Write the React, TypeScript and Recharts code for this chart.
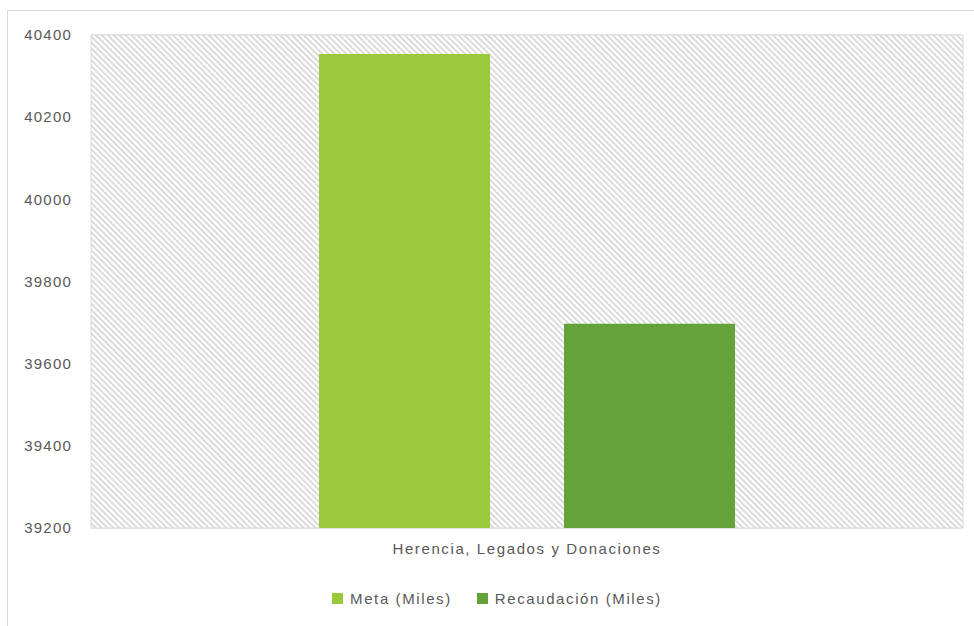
import React from 'react';
import { BarChart, Bar, XAxis, YAxis, CartesianGrid, ReferenceArea, Legend } from 'recharts';

const categories = ['Herencia, Legados y Donaciones'];
const metaValues = [40354];
const recaudacionValues = [39697];
const yTicks = [39200, 39400, 39600, 39800, 40000, 40200, 40400];
const seriesNames = ['Meta (Miles)', 'Recaudación (Miles)'];
const seriesColors = ['#9ACA3C', '#63A33A'];

const data = categories.map((c, i) => ({
  name: c,
  meta: metaValues[i],
  recaudacion: recaudacionValues[i],
}));

const FONT = '"Liberation Sans", Arial, sans-serif';
const TEXT = '#595959';

const LegendContent = () => (
  <div style={{ display: 'flex', justifyContent: 'center', alignItems: 'center', fontFamily: FONT, fontSize: 15, color: TEXT, letterSpacing: 1.6 }}>
    {seriesNames.map((n, i) => (
      <div key={n} style={{ display: 'flex', alignItems: 'center', marginRight: i === 0 ? 25 : 0 }}>
        <div style={{ width: 11, height: 11, background: seriesColors[i], marginRight: 7 }} />
        <span>{n}</span>
      </div>
    ))}
  </div>
);

export default function App() {
  return (
    <div style={{ position: 'absolute', left: 0, top: 0, width: 974, height: 626, overflow: 'hidden', background: '#fff' }}>
      <div style={{ position: 'absolute', left: 7, top: 10, width: 1100, height: 800, border: '1px solid #d9d9d9' }} />
      <div style={{ position: 'absolute', left: 0, top: 0 }}>
        <BarChart width={974} height={626} data={data} margin={{ top: 35, right: 11, bottom: 58, left: 0 }} barGap={74}>
          <defs>
            <pattern id="hatch" patternUnits="userSpaceOnUse" width="4.2" height="4.2" patternTransform="rotate(-45)">
              <rect x="0" y="0" width="4.2" height="4.2" fill="#ffffff" />
              <rect x="0" y="0" width="1.9" height="4.2" fill="#d9d9d9" />
            </pattern>
          </defs>
          <ReferenceArea y1={39200} y2={40400} fill="url(#hatch)" fillOpacity={1} stroke="#d9d9d9" strokeWidth={1} />
          <CartesianGrid vertical={false} stroke="#d9d9d9" strokeWidth={1} />
          <XAxis dataKey="name" axisLine={false} tickLine={false} tickSize={0} tickMargin={15} height={40}
            tick={{ fill: TEXT, fontSize: 15, fontFamily: FONT, letterSpacing: 1.6 }} />
          <YAxis domain={[39200, 40400]} ticks={yTicks} axisLine={false} tickLine={false} tickSize={0} tickMargin={19} width={91}
            tick={{ fill: TEXT, fontSize: 15, fontFamily: FONT, letterSpacing: 1.2 }} interval={0} />
          <Legend layout="horizontal" verticalAlign="middle" align="center" content={<LegendContent />}
            wrapperStyle={{ position: 'absolute', left: 0, top: 590, width: 994 }} />
          <Bar dataKey="meta" name={seriesNames[0]} fill={seriesColors[0]} barSize={171} isAnimationActive={false} />
          <Bar dataKey="recaudacion" name={seriesNames[1]} fill={seriesColors[1]} barSize={171} isAnimationActive={false} />
        </BarChart>
      </div>
    </div>
  );
}
